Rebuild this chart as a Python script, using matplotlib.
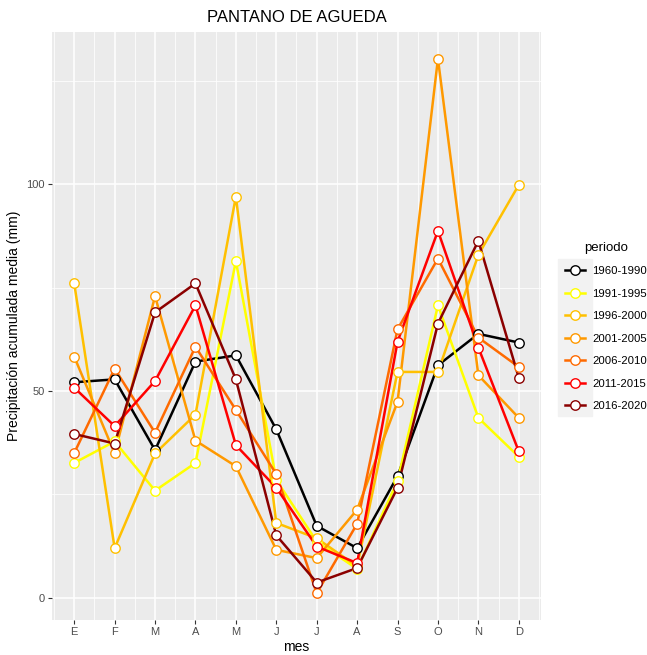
import matplotlib
matplotlib.use("Agg")
import matplotlib.pyplot as plt
from matplotlib.lines import Line2D
from matplotlib.patches import Rectangle
import numpy as np

plt.rcParams['font.family'] = ['Liberation Sans', 'DejaVu Sans']

meses = ['E', 'F', 'M', 'A', 'M', 'J', 'J', 'A', 'S', 'O', 'N', 'D']
periodos = ['1960-1990', '1991-1995', '1996-2000', '2001-2005',
            '2006-2010', '2011-2015', '2016-2020']
colores = ['black', '#FFFF00', '#FFC000', '#FF9900', '#FF6A00', '#FF0000', '#8B0000']

p1960 = [52.1, 52.8, 35.7, 57.1, 58.6, 40.7, 17.4, 12.0, 29.4, 56.2, 63.8, 61.7]
p1991 = [32.6, 37.8, 25.9, 32.6, 81.4, 28.5, 13.6, 7.0, 28.2, 70.7, 43.5, 34.1]
p1996 = [76.0, 12.0, 34.9, 44.3, 97.0, 18.1, 14.4, 7.6, 54.6, 54.6, 82.9, 99.8]
p2001 = [58.3, 34.9, 72.9, 38.0, 31.8, 11.6, 9.6, 21.3, 47.4, 130.3, 53.8, 43.5]
p2006 = [35.0, 55.4, 39.9, 60.7, 45.4, 29.9, 1.1, 17.9, 64.9, 82.0, 62.9, 55.8]
p2011 = [50.8, 41.5, 52.4, 70.7, 36.9, 26.6, 12.4, 8.4, 61.9, 88.7, 60.5, 35.4]
p2016 = [39.6, 37.3, 69.0, 76.0, 52.8, 15.1, 3.7, 7.2, 26.6, 66.3, 86.3, 53.2]
series = [p1960, p1991, p1996, p2001, p2006, p2011, p2016]

x = np.arange(1, 13)

fig = plt.figure(figsize=(6.47, 6.55), dpi=100)
ax = fig.add_axes([52/647, 1-620/655, (541-52)/647, (620-32)/655])
ax.set_facecolor('#EBEBEB')

# lines first, points on top (like ggplot)
for s, c in zip(series, colores):
    ax.plot(x, s, color=c, lw=1.8, zorder=3)
for s, c in zip(series, colores):
    ax.plot(x, s, ls='none', marker='o', ms=6.8, mfc='white', mec=c, mew=1.0, zorder=4)

allv = np.concatenate(series)
lo, hi = allv.min(), allv.max()
pad = (hi - lo) * 0.05
ax.set_ylim(lo - pad, hi + pad)
ax.set_xlim(1 - 0.55, 12 + 0.55)

ax.set_xticks(x)
ax.set_xticklabels(meses)
ax.set_xticks(np.arange(0.5, 13, 1), minor=True)
ax.set_yticks([0, 50, 100])
ax.set_yticks([25, 75, 125], minor=True)
ax.grid(which='major', color='white', lw=1.1, zorder=0)
ax.grid(which='minor', color='white', lw=0.55, zorder=0)
ax.set_axisbelow(True)
for sp in ax.spines.values():
    sp.set_visible(False)
ax.tick_params(which='major', length=3, color='#333333', labelsize=8,
               labelcolor='#4D4D4D', pad=2)
ax.tick_params(which='minor', length=0)

ax.set_title('PANTANO DE AGUEDA', fontsize=12, pad=7)
ax.set_xlabel('mes', fontsize=10, labelpad=2)
ax.set_ylabel('Precipitación acumulada media (mm)', fontsize=10, labelpad=4)

handles = [Line2D([], [], color=c, lw=1.8, marker='o', ms=6.8, mfc='white',
                  mec=c, mew=1.0) for c in colores]
leg = fig.legend(handles, periodos, title='periodo', loc='upper left',
                 bbox_to_anchor=(560/647, 1-237/655), frameon=False,
                 fontsize=8.2, title_fontsize=9.5, handlelength=1.8,
                 handletextpad=0.6, labelspacing=1.1, borderaxespad=0)

fig.canvas.draw()
boxes = [h.get_window_extent() for h in leg.legend_handles]
x0 = min(b.x0 for b in boxes) - 2
x1 = max(b.x1 for b in boxes) + 2
y0 = min(b.y0 for b in boxes) - 6
y1 = max(b.y1 for b in boxes) + 6
fig.patches.append(Rectangle((x0/647, y0/655), (x1-x0)/647, (y1-y0)/655,
                             transform=fig.transFigure, color='#F2F2F2', zorder=0))

fig.savefig('out.png', dpi=100)
